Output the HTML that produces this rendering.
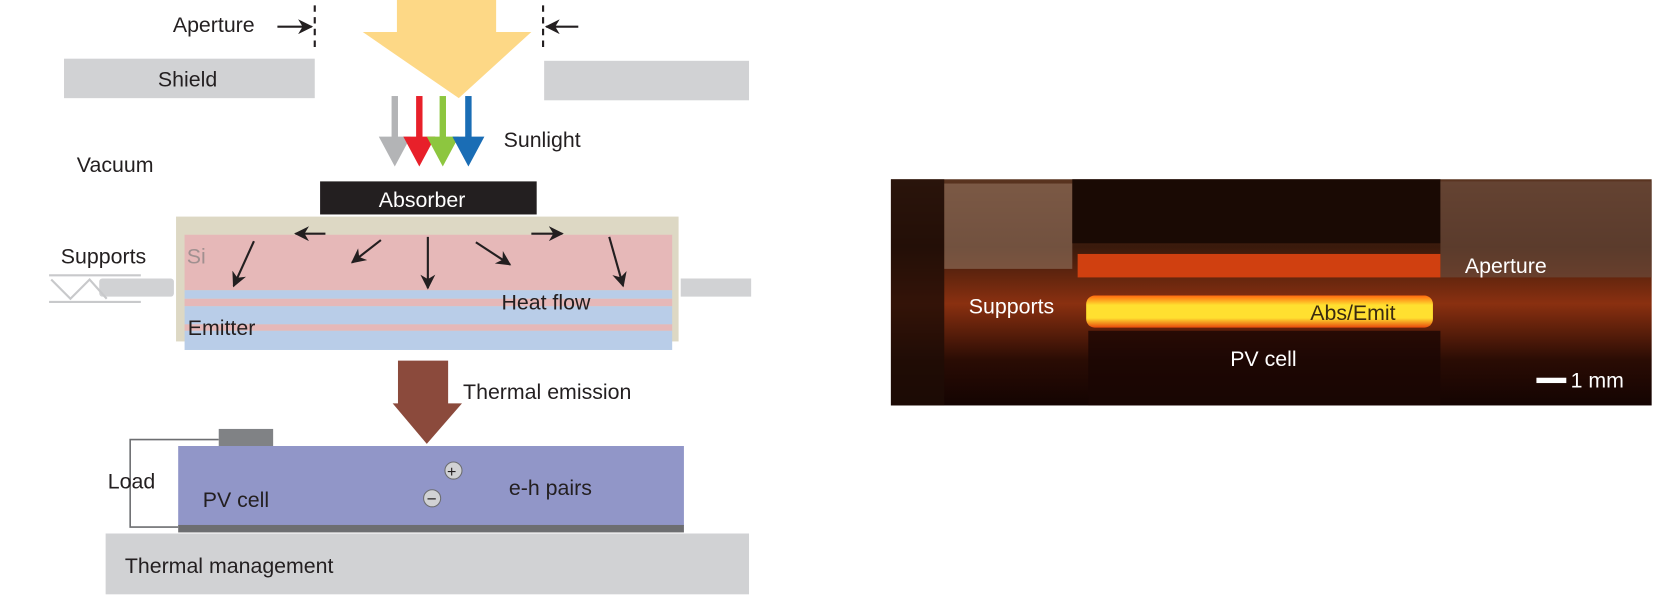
<!DOCTYPE html>
<html><head><meta charset="utf-8"><style>
body{margin:0;background:#fff;}
svg{display:block;}
svg text{font-family:"Liberation Sans","DejaVu Sans",sans-serif;font-size:20px;fill:#231f20;}
</style></head><body>
<svg width="1673" height="602" viewBox="0 0 1568 564.2" preserveAspectRatio="none">
<defs>
<marker id="ah" viewBox="0 0 10 10" refX="9" refY="5" markerWidth="7" markerHeight="7" orient="auto"><path d="M0,0 L10,5 L0,10 L3,5z" fill="#231f20"/></marker>
<linearGradient id="bg" x1="0" y1="0" x2="0" y2="1"><stop offset="0" stop-color="#5a3420"/><stop offset="0.3" stop-color="#3a1a0c"/><stop offset="0.55" stop-color="#8a3010"/><stop offset="0.8" stop-color="#2a0c04"/><stop offset="1" stop-color="#140402"/></linearGradient>
<linearGradient id="glow" x1="0" y1="0" x2="0" y2="1"><stop offset="0" stop-color="#ff6a10"/><stop offset="0.3" stop-color="#ffe030"/><stop offset="0.7" stop-color="#ffe030"/><stop offset="1" stop-color="#e84a0c"/></linearGradient>
</defs>
<g>
<text x="162" y="30">Aperture</text>
<line x1="260" y1="25" x2="292" y2="25" stroke="#231f20" stroke-width="2" marker-end="url(#ah)"/>
<line x1="295" y1="5" x2="295" y2="45" stroke="#231f20" stroke-width="2" stroke-dasharray="6,5"/>
<line x1="509" y1="5" x2="509" y2="45" stroke="#231f20" stroke-width="2" stroke-dasharray="6,5"/>
<line x1="542" y1="25" x2="512" y2="25" stroke="#231f20" stroke-width="2" marker-end="url(#ah)"/>
<polygon points="372,0 465,0 465,30 498,30 430,92 340,30 372,30" fill="#fdd886"/>
<rect x="60" y="55" width="235" height="37" fill="#d1d2d4"/>
<text x="148" y="81">Shield</text>
<rect x="510" y="57" width="192" height="37" fill="#d1d2d4"/>
<g>
<rect x="367" y="90" width="6" height="40" fill="#b3b4b6"/><polygon points="355,128 385,128 370,156" fill="#b3b4b6"/>
<rect x="390" y="90" width="6" height="40" fill="#e8202a"/><polygon points="378,128 408,128 393,156" fill="#e8202a"/>
<rect x="412" y="90" width="6" height="40" fill="#8dc63f"/><polygon points="400,128 430,128 415,156" fill="#8dc63f"/>
<rect x="436" y="90" width="6" height="40" fill="#1a6db5"/><polygon points="424,128 454,128 439,156" fill="#1a6db5"/>
</g>
<text x="472" y="138">Sunlight</text>
<text x="72" y="161">Vacuum</text>
<rect x="165" y="203" width="471" height="117" fill="#ddd8c4"/>
<rect x="173" y="220" width="457" height="52" fill="#e6b8b8"/>
<rect x="173" y="272" width="457" height="8" fill="#b9cde8"/>
<rect x="173" y="280" width="457" height="7" fill="#e6b8b8"/>
<rect x="173" y="287" width="457" height="17" fill="#b9cde8"/>
<rect x="173" y="304" width="457" height="6" fill="#e6b8b8"/>
<rect x="173" y="310" width="457" height="18" fill="#b9cde8"/>
<rect x="300" y="170" width="203" height="31" fill="#231f20"/>
<text x="355" y="194" style="fill:#fff">Absorber</text>
<text x="175" y="247" style="fill:#a09090">Si</text>
<g stroke="#231f20" stroke-width="2" fill="none">
<line x1="305" y1="219" x2="277" y2="219" marker-end="url(#ah)"/>
<line x1="498" y1="219" x2="527" y2="219" marker-end="url(#ah)"/>
<line x1="238" y1="226" x2="219" y2="268" marker-end="url(#ah)"/>
<line x1="357" y1="225" x2="330" y2="246" marker-end="url(#ah)"/>
<line x1="401" y1="222" x2="401" y2="270" marker-end="url(#ah)"/>
<line x1="446" y1="227" x2="478" y2="248" marker-end="url(#ah)"/>
<line x1="571" y1="222" x2="584" y2="268" marker-end="url(#ah)"/>
</g>
<text x="470" y="290">Heat flow</text>
<text x="176" y="314">Emitter</text>
<text x="57" y="247">Supports</text>
<rect x="93" y="261" width="70" height="17" rx="3" fill="#d1d2d4"/>
<rect x="638" y="261" width="66" height="17" fill="#d1d2d4"/>
<g stroke="#c8c9cb" stroke-width="2" fill="none">
<line x1="46" y1="258" x2="132" y2="258"/><line x1="46" y1="283" x2="132" y2="283"/>
<polyline points="48,262 66,280 84,262 100,280"/></g>
<polygon points="373,338 420,338 420,378 433,378 400,416 368,378 373,378" fill="#8b4a3c"/>
<text x="434" y="374">Thermal emission</text>
<polyline points="205,412 122,412 122,494 167,494" stroke="#6d6e71" stroke-width="1.5" fill="none"/>
<text x="101" y="458">Load</text>
<rect x="205" y="402" width="51" height="17" fill="#808285"/>
<rect x="167" y="418" width="474" height="75" fill="#9196c8"/>
<rect x="167" y="492" width="474" height="7" fill="#6d6e71"/>
<text x="190" y="475">PV cell</text>
<circle cx="425" cy="441" r="8" fill="#d1d2d4" stroke="#6d6e71"/><text x="419" y="447" style="font-size:15px">+</text>
<circle cx="405" cy="467" r="8" fill="#d1d2d4" stroke="#6d6e71"/><text x="400" y="473" style="font-size:16px">−</text>
<text x="477" y="464">e-h pairs</text>
<rect x="99" y="500" width="603" height="57" fill="#d1d2d4"/>
<text x="117" y="537">Thermal management</text>
</g>
<g>
<rect x="835" y="168" width="713" height="212" fill="url(#bg)"/>
<rect x="835" y="168" width="50" height="212" fill="#1e0c06" opacity="0.8"/>
<rect x="885" y="172" width="120" height="80" fill="#8a6a55" opacity="0.7"/>
<rect x="1005" y="168" width="345" height="60" fill="#1a0a04"/>
<rect x="1350" y="170" width="198" height="90" fill="#6a4a3a" opacity="0.7"/>
<rect x="1010" y="238" width="340" height="22" fill="#d04010"/>
<rect x="1018" y="277" width="325" height="30" rx="8" fill="url(#glow)"/>
<rect x="1020" y="310" width="330" height="70" fill="#1a0604" opacity="0.8"/>
<text x="908" y="294" style="fill:#fff">Supports</text>
<text x="1373" y="256" style="fill:#fff">Aperture</text>
<text x="1228" y="300" style="fill:#3a2a10">Abs/Emit</text>
<text x="1153" y="343" style="fill:#fff">PV cell</text>
<rect x="1440" y="354" width="28" height="5" fill="#fff"/>
<text x="1472" y="363" style="fill:#fff">1 mm</text>
</g>
</svg>
</body></html>
